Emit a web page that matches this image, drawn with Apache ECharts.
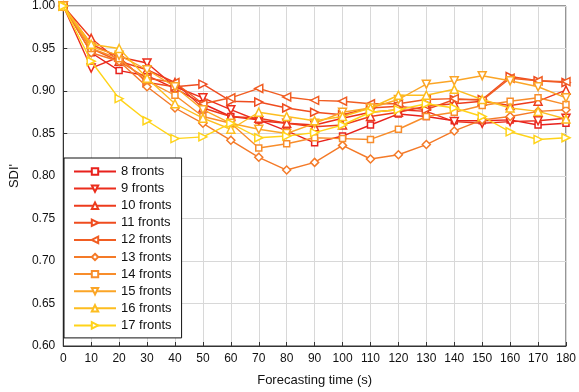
<!DOCTYPE html>
<html><head><meta charset="utf-8">
<script src="https://cdn.jsdelivr.net/npm/echarts@6/dist/echarts.min.js"></script>
<style>html,body{margin:0;padding:0;background:#fff}#c{width:579px;height:392px}</style>
</head><body><div id="c"></div>
<script>
const times = [0,10,20,30,40,50,60,70,80,90,100,110,120,130,140,150,160,170,180];
const seriesNames = ['8 fronts','9 fronts','10 fronts','11 fronts','12 fronts','13 fronts','14 fronts','15 fronts','16 fronts','17 fronts'];
const s8  = [1.00,0.945,0.924,0.918,0.903,0.885,0.870,0.866,0.853,0.839,0.847,0.860,0.873,0.870,0.865,0.865,0.866,0.860,0.862];
const s9  = [1.00,0.927,0.940,0.933,0.905,0.892,0.878,0.865,0.862,0.860,0.868,0.875,0.878,0.876,0.864,0.862,0.864,0.865,0.868];
const s10 = [1.00,0.962,0.935,0.925,0.910,0.880,0.870,0.868,0.862,0.858,0.860,0.870,0.875,0.882,0.885,0.888,0.883,0.888,0.901];
const s11 = [1.00,0.955,0.940,0.910,0.905,0.908,0.888,0.887,0.880,0.875,0.872,0.880,0.882,0.878,0.890,0.890,0.917,0.912,0.910];
const s12 = [1.00,0.950,0.935,0.915,0.910,0.885,0.892,0.903,0.893,0.889,0.888,0.885,0.885,0.890,0.891,0.889,0.915,0.912,0.911];
const s13 = [1.00,0.945,0.935,0.905,0.880,0.862,0.842,0.822,0.807,0.816,0.836,0.820,0.825,0.837,0.853,0.866,0.870,0.876,0.878];
const s14 = [1.00,0.950,0.938,0.912,0.895,0.870,0.862,0.833,0.838,0.845,0.844,0.843,0.855,0.870,0.875,0.883,0.888,0.892,0.884];
const s15 = [1.00,0.952,0.942,0.925,0.905,0.878,0.862,0.855,0.850,0.862,0.875,0.880,0.890,0.908,0.912,0.918,0.912,0.905,0.892];
const s16 = [1.00,0.955,0.950,0.915,0.885,0.868,0.855,0.875,0.870,0.865,0.870,0.880,0.895,0.895,0.902,0.890,0.880,0.876,0.867];
const s17 = [1.00,0.935,0.891,0.865,0.844,0.846,0.862,0.845,0.847,0.851,0.860,0.875,0.878,0.885,0.880,0.870,0.852,0.843,0.845];
const yTicks = [0.60,0.65,0.70,0.75,0.80,0.85,0.90,0.95,1.00];

const allData = [s8,s9,s10,s11,s12,s13,s14,s15,s16,s17];
const colors = ['#e8211c','#eb2d1c','#ed3b1c','#ef4c1f','#f15d22','#f47a28','#f88d2b','#fba526','#fdbd1f','#ffd319'];
const symbols = ['rect','triangle','triangle','triangle','triangle','diamond','rect','triangle','triangle','triangle'];
const rots = [0,180,0,-90,90,0,0,180,0,-90];

const chart = echarts.init(document.getElementById('c'), null, {renderer:'canvas'});
const font = 'Liberation Sans, Arial, sans-serif';
const series = allData.map((d,i)=>({
  name: seriesNames[i], type:'line',
  data: times.map((t,j)=>[t,d[j]]),
  symbol: symbols[i], symbolRotate: rots[i],
  symbolSize: symbols[i]==='rect' ? 6 : 8,
  showAllSymbol:true,
  lineStyle:{color:colors[i], width:1.4},
  itemStyle:{color:'#fff', borderColor:colors[i], borderWidth:1.5},
  color: colors[i],
  z: 2+i, animation:false
}));
chart.setOption({
  animation:false,
  grid:{left:54,right:11,top:5,bottom:43,show:true,borderColor:'#333',borderWidth:1},
  xAxis:{type:'value',min:0,max:180,interval:10,
    name:'Forecasting time (s)',nameLocation:'middle',nameGap:28,
    nameTextStyle:{fontFamily:font,fontSize:13,color:'#111'},
    axisLine:{lineStyle:{color:'#333'}},
    axisTick:{inside:true,length:4,lineStyle:{color:'#333'}},
    axisLabel:{fontFamily:font,fontSize:12,color:'#111',margin:7},
    splitLine:{show:true,lineStyle:{color:'#d8d8d8'}}},
  yAxis:{type:'value',min:0.60,max:1.00,interval:0.05,
    name:"SDI'",nameLocation:'middle',nameGap:38,
    nameTextStyle:{fontFamily:font,fontSize:13,color:'#111'},
    axisLine:{lineStyle:{color:'#333'}},
    axisTick:{inside:true,length:4,lineStyle:{color:'#333'}},
    axisLabel:{fontFamily:font,fontSize:12,color:'#111',margin:8,formatter:v=>v.toFixed(2)},
    splitLine:{show:true,lineStyle:{color:'#d8d8d8'}}},
  legend:{orient:'vertical',left:64,top:158,data:seriesNames,
    backgroundColor:'#fff',borderColor:'#111',borderWidth:1,
    padding:[7,10,6,9],itemWidth:42,itemHeight:8,itemGap:4.1,
    textStyle:{fontFamily:font,fontSize:13,color:'#111'}},
  series: series
});
</script></body></html>
